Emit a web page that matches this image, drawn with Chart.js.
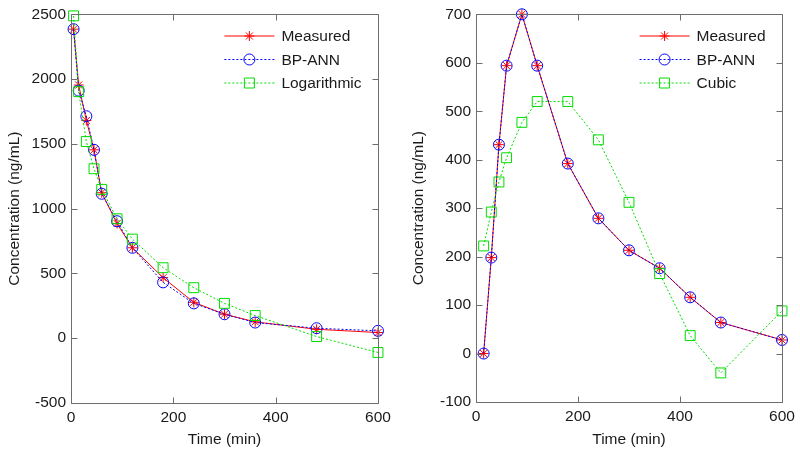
<!DOCTYPE html>
<html>
<head>
<meta charset="utf-8">
<script src="https://cdn.jsdelivr.net/npm/chart.js@4/dist/chart.umd.min.js"></script>
<style>
body{margin:0;background:#fff;}
#wrap{position:relative;width:800px;height:451px;}
canvas{position:absolute;top:0;}
</style>
</head>
<body>
<div id="wrap">
<canvas id="left" width="400" height="451" style="left:0"></canvas>
<canvas id="right" width="400" height="451" style="left:400px"></canvas>
</div>
<script>

/* data */

const timesL=[5,15,30,45,60,90,120,180,240,300,360,480,600];
const measuredL=[2385,1954,1680,1454,1123,885,698,467,277,185,126,69,44];
const annL=[2385,1911,1713,1454,1115,903,698,431,269,185,121,77,57];
const logL=[2488,1903,1518,1308,1149,922,765,544,390,269,175,13,-110];

const timesR=[15,30,45,60,90,120,180,240,300,360,420,480,600];
const measuredR=[0,198,431,594,700,594,392,279,213,176,116,64,28];
const annR=[0,198,431,594,700,594,392,279,213,176,116,64,28];
const cubicR=[222,292,354,404,477,520,520,441,312,165,37,-40,88];

const xTicks=[0,200,400,600];
const labelsL=["Measured","BP-ANN","Logarithmic"];
const labelsR=["Measured","BP-ANN","Cubic"];

const FONT="'Liberation Sans', Arial, sans-serif";
const TXT="#1a1a1a";
const AXIS="#6e6e6e";

function pts(xs,ys){
return xs.map((x,i)=>({x:x,y:ys[i]}));
}

/* marker drawing for the legend */

function marker(ctx,style,x,y,color){
ctx.save();
ctx.strokeStyle=color;
ctx.lineWidth=1;
ctx.setLineDash([]);
ctx.beginPath();
if(style==="star"){
const r=5,d=r*Math.SQRT1_2;
ctx.moveTo(x-r,y);ctx.lineTo(x+r,y);
ctx.moveTo(x,y-r);ctx.lineTo(x,y+r);
ctx.moveTo(x-d,y-d);ctx.lineTo(x+d,y+d);
ctx.moveTo(x-d,y+d);ctx.lineTo(x+d,y-d);
}else if(style==="circle"){
ctx.arc(x,y,5.5,0,Math.PI*2);
}else{
ctx.rect(x-5,y-5,10,10);
}
ctx.stroke();
ctx.restore();
}

/* box, inward ticks and legend, matlab style */

const boxPlugin={
id:"box",
afterDraw(chart){
const ctx=chart.ctx;
const a=chart.chartArea;
const sx=chart.scales.x, sy=chart.scales.y;
const L=Math.round(a.left)+0.5, R=Math.round(a.right)+0.5;
const T=Math.round(a.top)+0.5, B=Math.round(a.bottom)+0.5;

ctx.save();
ctx.strokeStyle=AXIS;
ctx.lineWidth=1;
ctx.beginPath();
ctx.rect(L,T,R-L,B-T);
sx.ticks.forEach(t=>{
const p=Math.round(sx.getPixelForValue(t.value))+0.5;
ctx.moveTo(p,B);ctx.lineTo(p,B-6);
ctx.moveTo(p,T);ctx.lineTo(p,T+6);
});
sy.ticks.forEach(t=>{
const p=Math.round(sy.getPixelForValue(t.value))+0.5;
ctx.moveTo(L,p);ctx.lineTo(L+6,p);
ctx.moveTo(R,p);ctx.lineTo(R-6,p);
});
ctx.stroke();

/* legend */
ctx.font="15.5px "+FONT;
const ds=chart.data.datasets;
const maxW=Math.max(...ds.map(d=>ctx.measureText(d.label).width));
const textX=R-17-maxW;
ds.forEach((d,i)=>{
const y=36+i*23.5;
ctx.strokeStyle=d.borderColor;
ctx.lineWidth=1;
ctx.setLineDash(d.borderDash||[]);
ctx.beginPath();
ctx.moveTo(textX-57,y);
ctx.lineTo(textX-7,y);
ctx.stroke();
marker(ctx,d.pointStyle,textX-32,y,d.borderColor);
ctx.fillStyle=TXT;
ctx.textBaseline="middle";
ctx.textAlign="left";
ctx.fillText(d.label,textX,y+1);
});
ctx.restore();
}
};

function criarGrafico(id,times,series,labels,yMin,yMax,step,area){

/* matlab plot order: last series on top */
const estilos=[
{borderColor:"#ff0000",pointStyle:"star",pointRadius:5,borderDash:[],order:2},
{borderColor:"#0000ff",pointStyle:"circle",pointRadius:5.5,borderDash:[2,2],order:1},
{borderColor:"#00dd00",pointStyle:"rect",pointRadius:7,borderDash:[2,2],order:0}
];

const datasets=series.map((s,i)=>({
label:labels[i],
data:pts(times,s),
borderColor:estilos[i].borderColor,
pointBorderColor:estilos[i].borderColor,
backgroundColor:"rgba(0,0,0,0)",
pointBackgroundColor:"rgba(0,0,0,0)",
pointStyle:estilos[i].pointStyle,
pointRadius:estilos[i].pointRadius,
pointBorderWidth:1,
borderWidth:1,
borderDash:estilos[i].borderDash,
order:estilos[i].order,
tension:0,
clip:false
}));

return new Chart(document.getElementById(id),{
type:"line",
data:{datasets:datasets},
options:{
responsive:false,
animation:false,
devicePixelRatio:1,
layout:{padding:{top:area.top,right:area.right,left:0,bottom:0}},
plugins:{legend:{display:false},tooltip:{enabled:false}},
scales:{
x:{
type:"linear",min:0,max:600,
afterBuildTicks:(s)=>{s.ticks=xTicks.map(v=>({value:v}));},
afterFit:(s)=>{s.height=area.bottomH;},
grid:{display:false,drawTicks:false},
border:{display:false},
ticks:{color:TXT,font:{family:FONT,size:15.5},padding:5,maxRotation:0,callback:(v)=>String(v)},
title:{display:true,text:"Time (min)",color:TXT,font:{family:FONT,size:15.5},padding:{top:0,bottom:2}}
},
y:{
type:"linear",min:yMin,max:yMax,
ticks:{stepSize:step,color:TXT,font:{family:FONT,size:15.5},padding:5,callback:(v)=>String(v)},
afterFit:(s)=>{s.width=area.leftW;},
grid:{display:false,drawTicks:false},
border:{display:false},
title:{display:true,text:"Concentration (ng/mL)",color:TXT,font:{family:FONT,size:15.5},padding:{top:area.titlePad,bottom:0}}
}
}
},
plugins:[boxPlugin]
});

}

criarGrafico("left",timesL,[measuredL,annL,logL],labelsL,-500,2500,500,
{top:13,right:22,bottomH:48,leftW:71,titlePad:5});

criarGrafico("right",timesR,[measuredR,annR,cubicR],labelsR,-100,700,100,
{top:13,right:18,bottomH:49,leftW:76,titlePad:9});

</script>
</body>
</html>
